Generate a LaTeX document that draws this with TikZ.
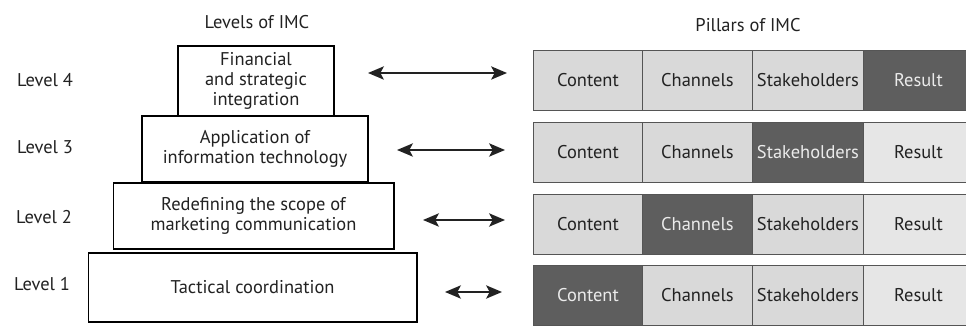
\documentclass[tikz,border=0pt]{standalone}
\usepackage{fontspec}
\setmainfont{PT Sans}
\usetikzlibrary{arrows.meta}
\definecolor{lightcell}{HTML}{D9D9D9}
\definecolor{lightres}{HTML}{E6E6E6}
\definecolor{darkcell}{HTML}{5E5E5E}
\definecolor{ink}{HTML}{222222}
\definecolor{celledge}{HTML}{555555}
\begin{document}
\begin{tikzpicture}[x=0.02cm,y=-0.02cm,
  lvl/.style={draw=black, line width=0.6pt, fill=white, align=center, inner sep=0pt, font=\fontsize{10.5}{11.5}\selectfont, text=ink},
  cell/.style={draw=celledge, line width=0.5pt, minimum height=1.2cm, inner sep=0pt, anchor=west, font=\fontsize{10.5}{12}\selectfont},
  lightc/.style={cell, fill=lightcell, text=ink},
  resc/.style={cell, fill=lightres, text=ink},
  darkc/.style={cell, fill=darkcell, text=white!92!black},
  lab/.style={font=\fontsize{10.5}{12}\selectfont, text=ink},
  biarrow/.style={{Stealth[length=9pt,width=7.5pt,inset=2pt]}-{Stealth[length=9pt,width=7.5pt,inset=2pt]}, line width=1.2pt, draw=ink}
]
\useasboundingbox (0,0) rectangle (966,330);
\clip (0,0) rectangle (966,330);
\fill[white] (0,0) rectangle (966,330);

% titles
\node[lab] (tlev) at (257,22) {Levels of IMC};
\node[lab] (tpil) at (748,25) {Pillars of IMC};

% level labels
\node[lab, anchor=west] (lab4) at (11,80) {Level 4};
\node[lab, anchor=west] (lab3) at (11,147) {Level 3};
\node[lab, anchor=west] (lab2) at (10,217) {Level 2};
\node[lab, anchor=west] (lab1) at (8,284) {Level 1};

% pyramid
\node[lvl, minimum width=3.12cm, minimum height=1.4cm] (L4) at (256,81) {Financial\\and strategic\\integration};
\node[lvl, minimum width=4.52cm, minimum height=1.32cm] (L3) at (255,149) {Application of\\information technology};
\node[lvl, minimum width=5.62cm, minimum height=1.32cm] (L2) at (253.5,216) {Redefining the scope of\\marketing communication};
\node[lvl, minimum width=6.58cm, minimum height=1.38cm] (L1) at (252.5,287.5) {Tactical coordination};

% pillar rows
% row 4 (top)
\node[lightc, minimum width=2.18cm] (r4a) at (533,80) {Content};
\node[lightc, minimum width=2.20cm] (r4b) at (642,80) {Channels};
\node[lightc, minimum width=2.22cm] (r4c) at (752,80) {Stakeholders};
\node[darkc,  minimum width=2.20cm] (r4d) at (863,80) {\raisebox{-3pt}{Result}};
% row 3
\node[lightc, minimum width=2.18cm] (r3a) at (533,152) {Content};
\node[lightc, minimum width=2.20cm] (r3b) at (642,152) {Channels};
\node[darkc,  minimum width=2.22cm] (r3c) at (752,152) {Stakeholders};
\node[resc,   minimum width=2.20cm] (r3d) at (863,152) {\raisebox{-3pt}{Result}};
% row 2
\node[lightc, minimum width=2.18cm] (r2a) at (533,224) {Content};
\node[darkc,  minimum width=2.20cm] (r2b) at (642,224) {Channels};
\node[lightc, minimum width=2.22cm] (r2c) at (752,224) {Stakeholders};
\node[resc,   minimum width=2.20cm] (r2d) at (863,224) {\raisebox{-3pt}{Result}};
% row 1
\node[darkc,  minimum width=2.18cm] (r1a) at (533,295) {Content};
\node[lightc, minimum width=2.20cm] (r1b) at (642,295) {Channels};
\node[lightc, minimum width=2.22cm] (r1c) at (752,295) {Stakeholders};
\node[resc,   minimum width=2.20cm] (r1d) at (863,295) {\raisebox{-3pt}{Result}};

% arrows
\coordinate (a4s) at (368,73);  \coordinate (a4e) at (507,73);
\coordinate (a3s) at (397,150); \coordinate (a3e) at (505,150);
\coordinate (a2s) at (423,220); \coordinate (a2e) at (505,220);
\coordinate (a1s) at (445,292); \coordinate (a1e) at (502,292);
\draw[biarrow] (a4s) -- (a4e);
\draw[biarrow] (a3s) -- (a3e);
\draw[biarrow] (a2s) -- (a2e);
\draw[biarrow] (a1s) -- (a1e);
\end{tikzpicture}
\end{document}
